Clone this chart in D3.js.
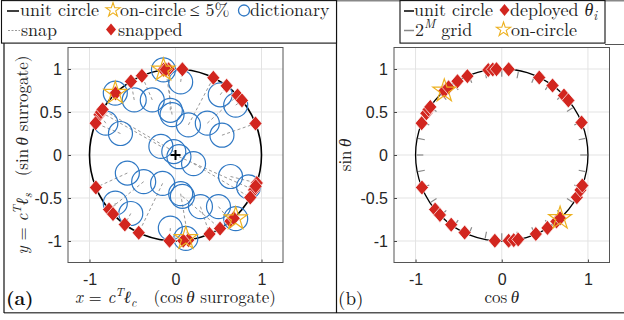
<!DOCTYPE html>
<html>
<head>
<meta charset="utf-8">
<script src="https://cdn.jsdelivr.net/npm/d3@7"></script>
<style>
  body { margin: 0; background: #fff; }
  svg { display: block; }
</style>
</head>
<body>
<svg id="chart" width="624" height="320"></svg>
<script>
// (a) dictionary points in surrogate coords, and the angle (deg) each snaps to
const dictX = [-0.70, -0.14, 0.06, -0.48, -0.27, -0.06, -0.04, 0.15, 0.37, 0.52, 0.70, 0.54,
  -0.81, -0.64, -0.17, -0.02, 0.04, 0.21, -0.56, -0.37, -0.15, 0.06, 0.08, 0.29, 0.50, 0.64,
  0.85, 0.70, 0.12, -0.06, -0.52, -0.70];
const dictY = [0.72, 0.99, 0.85, 0.64, 0.64, 0.52, 0.47, 0.35, 0.37, 0.70, 0.58, 0.23,
  0.37, 0.25, 0.10, 0.04, -0.02, -0.10, -0.21, -0.31, -0.33, -0.45, -0.48, -0.60, -0.60, -0.25,
  -0.37, -0.74, -0.97, -0.85, -0.68, -0.56];
const snapDeg = [134.2, 98.0, 85.4, 121.2, 113.0, 94.6, 96.5, 63.9, 43.8, 53.5, 39.4, 21.5,
  152.0, 158.3, 150.1, 148.0, 336.0, 330.4, 202.2, 219.4, 244.7, 278.6, 301.2, 293.3, 309.7, 341.0,
  338.7, 312.6, 275.2, 266.0, 233.9, 223.4];
const onCircleIdx = [0, 1, 27, 28];

// (b) deployed angles (deg) and the on-circle ones
const deployedDeg = [158.3, 151.0, 148.0, 146.0, 131.8, 128.1, 120.9, 113.5, 99.0, 96.0, 93.5,
  85.4, 64.2, 53.9, 43.8, 39.4, 22.2, 202.2, 219.4, 224.2, 234.1, 244.5, 265.4, 274.6, 278.0,
  281.0, 293.3, 302.0, 309.4, 312.6, 330.6, 336.0, 339.2];
const onCircleDeg = [131.8, 312.6];
const gridBits = 5; // 2^M grid

const xTicks = [-1, 0, 1];
const yTicks = [-1, -0.5, 0, 0.5, 1];

const RED = '#d2261f', BLUE = '#2f78c4', GOLD = '#edb120';
const LM = "'Latin Modern Roman', 'Liberation Serif'";
const SANS = "'Liberation Sans'";

const svg = d3.select('#chart');
svg.append('rect').attr('width', 624).attr('height', 320).attr('fill', '#fff');

const y = d3.scaleLinear().domain([-1.25, 1.25]).range([262.5, 47.5]);
const xA = d3.scaleLinear().domain([-1.25, 1.25]).range([68, 283]);
const xB = d3.scaleLinear().domain([-1.25, 1.25]).range([394, 609.5]);

const rad = (d) => d * Math.PI / 180;
const diamond = (w, h) => `M0,${-h}L${w},0L0,${h}L${-w},0Z`;
const star = (R) => d3.symbol(d3.symbolStar, R * R / 0.8908130915292852)();

function drawAxes(x) {
  const g = svg.append('g');
  g.append('g').selectAll('line').data(xTicks).join('line')
    .attr('x1', (d) => x(d)).attr('x2', (d) => x(d))
    .attr('y1', y.range()[1]).attr('y2', y.range()[0])
    .attr('stroke', '#e3e3e3');
  g.append('g').selectAll('line').data(yTicks).join('line')
    .attr('y1', (d) => y(d)).attr('y2', (d) => y(d))
    .attr('x1', x.range()[0]).attr('x2', x.range()[1])
    .attr('stroke', '#e3e3e3');
  const ax = g.append('g').attr('transform', `translate(0,${y.range()[0]})`)
    .call(d3.axisBottom(x).tickValues(xTicks).tickSize(-3).tickPadding(8).tickFormat((d) => String(d)));
  const ay = g.append('g').attr('transform', `translate(${x.range()[0]},0)`)
    .call(d3.axisLeft(y).tickValues(yTicks).tickSize(-3).tickPadding(6).tickFormat((d) => String(d)));
  [ax, ay].forEach((a) => {
    a.attr('font-family', SANS).attr('font-size', 16);
    a.select('.domain').remove();
    a.selectAll('line').attr('stroke', '#444');
    a.selectAll('text').attr('fill', '#262626');
  });
  ax.selectAll('text').attr('dy', '0.9em');
  g.append('rect')
    .attr('x', x.range()[0]).attr('y', y.range()[1])
    .attr('width', x.range()[1] - x.range()[0]).attr('height', y.range()[0] - y.range()[1])
    .attr('fill', 'none').attr('stroke', '#555').attr('stroke-width', 1);
  return g;
}

function unitCircle(x, w) {
  svg.append('circle')
    .attr('cx', x(0)).attr('cy', y(0)).attr('r', x(1) - x(0))
    .attr('fill', 'none').attr('stroke', '#000').attr('stroke-width', w);
}

// ---------- panel (a)
drawAxes(xA);
unitCircle(xA, 1.6);

svg.append('g').selectAll('line').data(dictX).join('line')
  .attr('x1', (d) => xA(d)).attr('y1', (d, i) => y(dictY[i]))
  .attr('x2', (d, i) => xA(Math.cos(rad(snapDeg[i]))))
  .attr('y2', (d, i) => y(Math.sin(rad(snapDeg[i]))))
  .attr('stroke', '#8c8c8c').attr('stroke-width', 0.9).attr('stroke-dasharray', '3,2.5');

svg.append('g').selectAll('circle').data(dictX).join('circle')
  .attr('cx', (d) => xA(d)).attr('cy', (d, i) => y(dictY[i])).attr('r', 12)
  .attr('fill', 'none').attr('stroke', BLUE).attr('stroke-width', 1.2);

svg.append('path')
  .attr('d', `M${xA(0) - 5},${y(0)}h10M${xA(0)},${y(0) - 5}v10`)
  .attr('stroke', '#000').attr('stroke-width', 2);

svg.append('g').selectAll('path').data(snapDeg).join('path')
  .attr('transform', (d) => `translate(${xA(Math.cos(rad(d)))},${y(Math.sin(rad(d)))})`)
  .attr('d', diamond(6.5, 7.5))
  .attr('fill', RED).attr('stroke', '#fff').attr('stroke-width', 0.7);

svg.append('g').selectAll('path').data(onCircleIdx).join('path')
  .attr('transform', (i) => `translate(${xA(dictX[i])},${y(dictY[i])})`)
  .attr('d', star(12))
  .attr('fill', 'none').attr('stroke', GOLD).attr('stroke-width', 1.2);

// ---------- panel (b)
drawAxes(xB);
unitCircle(xB, 1.3);

const gridDeg = d3.range(2 ** gridBits).map((k) => k * 360 / 2 ** gridBits);
svg.append('g').selectAll('line').data(gridDeg).join('line')
  .attr('x1', (d) => xB(0.91 * Math.cos(rad(d)))).attr('y1', (d) => y(0.91 * Math.sin(rad(d))))
  .attr('x2', (d) => xB(0.99 * Math.cos(rad(d)))).attr('y2', (d) => y(0.99 * Math.sin(rad(d))))
  .attr('stroke', '#8a8a8a').attr('stroke-width', 1.2);

svg.append('g').selectAll('path').data(deployedDeg).join('path')
  .attr('transform', (d) => `translate(${xB(Math.cos(rad(d)))},${y(Math.sin(rad(d)))})`)
  .attr('d', diamond(6.5, 7.5))
  .attr('fill', RED).attr('stroke', '#fff').attr('stroke-width', 0.7);

svg.append('g').selectAll('path').data(onCircleDeg).join('path')
  .attr('transform', (d) => `translate(${xB(Math.cos(rad(d)))},${y(Math.sin(rad(d)))})`)
  .attr('d', star(12))
  .attr('fill', 'none').attr('stroke', GOLD).attr('stroke-width', 1.2);

// ---------- text with simple math (italic, sup, sub)
function mathText(parent, parts, size) {
  const t = parent.append('text').attr('font-family', LM).attr('font-size', size).attr('fill', '#222');
  let shift = 0;
  parts.forEach(([s, opt]) => {
    const ts = t.append('tspan').text(s);
    let target = 0;
    if (opt === 'i') ts.attr('font-style', 'italic');
    if (opt === 'sup') { ts.attr('font-size', size * 0.7).attr('font-style', 'italic'); target = -0.4 * size; }
    if (opt === 'sub') { ts.attr('font-size', size * 0.7).attr('font-style', 'italic'); target = 0.22 * size; }
    if (target !== shift) { ts.attr('dy', target - shift); shift = target; }
  });
  return t;
}

mathText(svg, [['x', 'i'], [' = ', ''], ['c', 'i'], ['T', 'sup'], ['ℓ', 'i'], ['c', 'sub'],
  ['\u2003(cos\u2009', ''], ['θ', 'i'], [' surrogate)', '']], 17)
  .attr('x', xA(0)).attr('y', 303).attr('text-anchor', 'middle');

mathText(svg.append('g').attr('transform', 'translate(28,155) rotate(-90)'),
  [['y', 'i'], [' = ', ''], ['c', 'i'], ['T', 'sup'], ['ℓ', 'i'], ['s', 'sub'],
    ['\u2003(sin\u2009', ''], ['θ', 'i'], [' surrogate)', '']], 17)
  .attr('text-anchor', 'middle');

mathText(svg, [['cos\u2009', ''], ['θ', 'i']], 17)
  .attr('x', xB(0)).attr('y', 303).attr('text-anchor', 'middle');

mathText(svg.append('g').attr('transform', 'translate(351,155) rotate(-90)'),
  [['sin\u2009', ''], ['θ', 'i']], 17)
  .attr('text-anchor', 'middle');

svg.append('text').attr('x', 6).attr('y', 305).attr('font-family', LM)
  .attr('font-size', 19).attr('font-weight', 'bold').attr('fill', '#111').text('(a)');
svg.append('text').attr('x', 338).attr('y', 305).attr('font-family', LM)
  .attr('font-size', 19).attr('fill', '#111').text('(b)');

// ---------- frames
const frame = svg.append('g').attr('fill', 'none');
frame.append('line').attr('x1', 336.5).attr('x2', 624).attr('y1', 0.8).attr('y2', 0.8)
  .attr('stroke', '#888').attr('stroke-width', 1.6);
frame.append('line').attr('x1', 4).attr('x2', 624).attr('y1', 312.8).attr('y2', 312.8)
  .attr('stroke', '#555').attr('stroke-width', 1.6);
frame.append('line').attr('x1', 4).attr('x2', 4).attr('y1', 0).attr('y2', 313)
  .attr('stroke', '#111').attr('stroke-width', 1.2);
frame.append('line').attr('x1', 336.5).attr('x2', 336.5).attr('y1', 0).attr('y2', 313)
  .attr('stroke', '#111').attr('stroke-width', 1.2);
frame.append('line').attr('x1', 605).attr('x2', 624).attr('y1', 44.5).attr('y2', 44.5)
  .attr('stroke', '#555');

// ---------- legends
function legendBox(x0, x1) {
  svg.append('rect').attr('x', x0).attr('y', 0.6).attr('width', x1 - x0).attr('height', 42.5)
    .attr('fill', '#fff').attr('stroke', '#111').attr('stroke-width', 1.1);
}
const legText = (x, yy, parts) => mathText(svg, parts, 18).attr('x', x).attr('y', yy);
const row1 = 16, row2 = 35.5;

legendBox(1.5, 336.5);
svg.append('line').attr('x1', 7).attr('x2', 19).attr('y1', row1 - 5).attr('y2', row1 - 5)
  .attr('stroke', '#000').attr('stroke-width', 1.5);
legText(20, row1, [['unit circle', '']]);
svg.append('path').attr('transform', `translate(113,${row1 - 6})`).attr('d', star(7.5))
  .attr('fill', 'none').attr('stroke', GOLD).attr('stroke-width', 1.1);
legText(120, row1, [['on-circle', ''], ['\u2009≤ 5%', '']]);
svg.append('circle').attr('cx', 244).attr('cy', row1 - 5.5).attr('r', 5.5)
  .attr('fill', 'none').attr('stroke', BLUE).attr('stroke-width', 1.3);
legText(250, row1, [['dictionary', '']]);
svg.append('line').attr('x1', 8).attr('x2', 20).attr('y1', row2 - 5).attr('y2', row2 - 5)
  .attr('stroke', '#999').attr('stroke-width', 1).attr('stroke-dasharray', '2,1.5');
legText(21, row2, [['snap', '']]);
svg.append('path').attr('transform', `translate(111,${row2 - 6})`).attr('d', diamond(5, 6))
  .attr('fill', RED);
legText(118, row2, [['snapped', '']]);

legendBox(400, 605);
svg.append('line').attr('x1', 404).attr('x2', 414).attr('y1', row1 - 5).attr('y2', row1 - 5)
  .attr('stroke', '#000').attr('stroke-width', 1.5);
legText(414, row1, [['unit circle', '']]);
svg.append('path').attr('transform', `translate(504.5,${row1 - 6})`).attr('d', diamond(5, 6))
  .attr('fill', RED);
legText(510, row1, [['deployed ', ''], ['θ', 'i'], ['i', 'sub']]);
svg.append('line').attr('x1', 404).attr('x2', 414).attr('y1', row2 - 5).attr('y2', row2 - 5)
  .attr('stroke', '#888').attr('stroke-width', 1.5);
legText(415, row2, [['2', ''], ['M', 'sup'], [' grid', '']]);
svg.append('path').attr('transform', `translate(503.5,${row2 - 6})`).attr('d', star(7.5))
  .attr('fill', 'none').attr('stroke', GOLD).attr('stroke-width', 1.1);
legText(511, row2, [['on-circle', '']]);
</script>
</body>
</html>
